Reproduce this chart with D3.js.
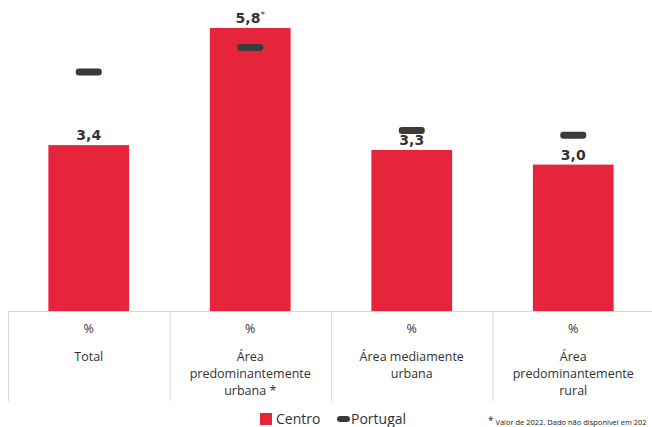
<!DOCTYPE html>
<html><head><meta charset="utf-8">
<script src="https://cdn.jsdelivr.net/npm/d3@7"></script>
<style>body{margin:0;background:#fff}</style>
</head><body>
<svg id="c" width="652" height="427"></svg>
<script>
const categories = [["Total"], ["Área", "predominantemente", "urbana *"], ["Área mediamente", "urbana"], ["Área", "predominantemente", "rural"]];
const unitLabels = ["%", "%", "%", "%"];
const centro = [3.4, 5.8, 3.3, 3.0];
const centroLabels = ["3,4", "5,8", "3,3", "3,0"];
const centroStar = [false, true, false, false];
const portugal = [4.9, 5.4, 3.7, 3.6];

const svg = d3.select("#c");
const x = d3.scaleBand().domain(d3.range(categories.length)).range([8, 654]).paddingInner(0).paddingOuter(0);
const y = d3.scaleLinear().domain([0, 5.8]).range([311, 28]);
const red = "#E6243C", dark = "#3b3b3b", gridc = "#d6d6d6";
const bw = x.bandwidth() * 0.5;

// table lines
svg.append("line").attr("x1", 8).attr("x2", 652).attr("y1", 311.5).attr("y2", 311.5).attr("stroke", gridc);
categories.forEach((c, i) => {
  svg.append("line").attr("x1", x(i) + 0.5).attr("x2", x(i) + 0.5).attr("y1", 311).attr("y2", 401).attr("stroke", gridc);
});

// bars
svg.selectAll("rect.bar").data(centro).join("rect").attr("class", "bar")
  .attr("x", (d, i) => x(i) + x.bandwidth() / 2 - bw / 2)
  .attr("width", bw)
  .attr("y", d => y(d)).attr("height", d => y(0) - y(d)).attr("fill", red);

// value labels
const vl = svg.selectAll("text.val").data(centro).join("text").attr("class", "val")
  .attr("x", (d, i) => x(i) + x.bandwidth() / 2)
  .attr("y", d => y(d) - 5)
  .attr("text-anchor", "middle")
  .attr("font-family", "DejaVu Sans, Verdana, sans-serif")
  .attr("font-weight", "bold").attr("font-size", 14).attr("fill", "#333");
vl.each(function(d, i) {
  const t = d3.select(this);
  t.append("tspan").text(centroLabels[i]);
  if (centroStar[i]) t.append("tspan").attr("dy", -5).attr("font-size", 9).attr("font-weight", "normal").text("*");
});

// portugal markers
svg.selectAll("rect.pt").data(portugal).join("rect").attr("class", "pt")
  .attr("x", (d, i) => x(i) + x.bandwidth() / 2 - 13)
  .attr("y", d => y(d) - 3.5)
  .attr("width", 26).attr("height", 7).attr("rx", 3).attr("fill", dark);

// category table text
const ff = "Open Sans, Noto Sans, sans-serif";
categories.forEach((lines, i) => {
  const cx = x(i) + x.bandwidth() / 2;
  svg.append("text").attr("x", cx).attr("y", 333).attr("text-anchor", "middle")
    .attr("font-family", ff).attr("font-size", 12.5).attr("fill", "#333").text(unitLabels[i]);
  lines.forEach((l, j) => {
    svg.append("text").attr("x", cx).attr("y", 361 + j * 17).attr("text-anchor", "middle")
      .attr("font-family", ff).attr("font-size", 12.5).attr("fill", "#333").text(l);
  });
});

// legend
svg.append("rect").attr("x", 260).attr("y", 413).attr("width", 12).attr("height", 12).attr("fill", red);
svg.append("text").attr("x", 276).attr("y", 424).attr("font-family", ff).attr("font-size", 14).attr("fill", "#333").text("Centro");
svg.append("rect").attr("x", 337).attr("y", 416).attr("width", 13).attr("height", 6).attr("rx", 3).attr("fill", dark);
svg.append("text").attr("x", 351).attr("y", 424).attr("font-family", ff).attr("font-size", 14).attr("fill", "#333").text("Portugal");

// footnote
const fn = svg.append("text").attr("x", 488).attr("y", 425).attr("font-family", ff).attr("font-size", 7.5).attr("fill", "#222");
fn.append("tspan").attr("font-size", 10).attr("dy", -1).text("*");
fn.append("tspan").attr("dy", 1).text(" Valor de 2022. Dado não disponível em 202");
</script>
</body></html>
